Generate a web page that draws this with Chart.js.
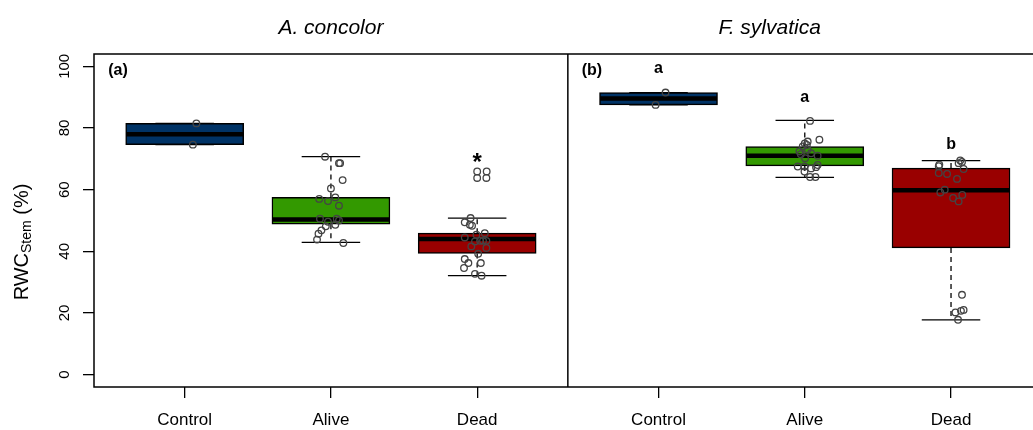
<!DOCTYPE html>
<html>
<head>
<meta charset="utf-8">
<script src="https://cdn.jsdelivr.net/npm/chart.js@4.4.1/dist/chart.umd.min.js"></script>
<style>
  html, body { margin: 0; padding: 0; overflow: hidden; background: #fff; }
  canvas { display: block; }
</style>
</head>
<body>
<canvas id="rwcChart" width="1047" height="430"></canvas>
<script>
// ===== data =====
const groups = ['Control', 'Alive', 'Dead'];
const species = ['A. concolor', 'F. sylvatica'];
const panelTags = ['(a)', '(b)'];

// box positions on the shared x axis (panel a: 1..3, panel b: 4.24..6.24)
const boxX = [1, 2, 3, 4.24, 5.24, 6.24];
const boxColors = ['#003366', '#339900', '#990000', '#003366', '#339900', '#990000'];
const boxQ1 = [74.6, 48.8, 39.3, 87.5, 67.7, 41.1];
const boxMedian = [78.0, 50.3, 44.0, 89.6, 71.0, 59.8];
const boxQ3 = [81.5, 57.5, 45.9, 91.5, 74.0, 67.0];
const whiskerLow = [74.6, 42.9, 32.1, 87.5, 64.0, 17.8];
const whiskerHigh = [81.5, 70.7, 50.8, 91.5, 82.5, 69.4];

// significance marks above boxes
const marks = ['', '', '*', 'a', 'a', 'b'];
const markY = [null, null, 68.5, 99.2, 89.8, 74.6];

const yTicks = [0, 20, 40, 60, 80, 100];

// jittered raw points: values and x offsets from the box centre
const pointValues = [
  [81.5, 74.6],
  [70.7, 68.6, 68.6, 63.1, 60.4, 57.5, 57.0, 56.3, 54.8, 50.6, 49.6, 50.6, 50.0, 48.6, 48.1, 46.8, 45.7, 43.8, 42.7],
  [65.9, 63.8, 65.9, 63.8, 50.8, 49.4, 48.6, 48.3, 45.9, 45.4, 44.5, 43.4, 43.4, 43.4, 43.2, 41.6, 41.1, 39.2, 37.5, 36.2, 34.6, 36.2, 32.7, 32.1],
  [91.5, 87.5],
  [82.3, 76.2, 75.6, 75.0, 74.5, 74.0, 72.4, 71.8, 71.0, 70.2, 67.5, 67.5, 66.9, 68.0, 67.3, 65.9, 64.1, 64.1, 71.5, 73.0],
  [68.1, 67.6, 69.5, 68.6, 69.0, 66.7, 65.4, 65.1, 63.5, 59.1, 60.0, 57.3, 56.2, 58.3, 25.9, 20.2, 20.7, 21.0, 17.8]
];
const pointJitter = [
  [0.08, 0.056],
  [-0.04, 0.055, 0.063, 0.08, 0.0, 0.03, -0.08, -0.02, 0.055, -0.075, -0.02, 0.04, 0.055, 0.03, -0.035, -0.065, -0.085, -0.095, 0.085],
  [0.0, 0.0, 0.065, 0.063, -0.045, -0.085, -0.05, -0.035, 0.052, -0.005, -0.085, 0.02, 0.04, 0.063, -0.015, -0.04, 0.063, 0.007, -0.085, -0.06, -0.09, 0.025, -0.015, 0.03],
  [0.048, -0.02],
  [0.036, 0.1, 0.02, 0.0, 0.014, -0.014, -0.036, 0.043, 0.088, 0.002, -0.048, -0.002, 0.043, 0.088, 0.077, -0.002, 0.036, 0.073, -0.027, 0.02],
  [-0.08, -0.084, 0.063, 0.052, 0.075, 0.086, -0.084, -0.027, 0.041, -0.073, -0.043, 0.014, 0.052, 0.077, 0.075, 0.03, 0.068, 0.086, 0.048]
];

const FONT = "'Liberation Sans', Arial, sans-serif";
const X_MIN = 0.38, X_MAX = 6.86, PANEL_SPLIT = 3.62;
const titleX = [2.0, 5.0];

// ===== datasets =====
const datasets = [];

const points = [];
pointValues.forEach((vals, g) => {
  vals.forEach((v, i) => points.push({ x: boxX[g] + pointJitter[g][i], y: v }));
});
datasets.push({
  type: 'scatter',
  data: points,
  pointRadius: 3.3,
  pointBorderWidth: 1.3,
  borderColor: '#444444',
  backgroundColor: 'rgba(0,0,0,0)',
  order: 0
});

function segment(x1, x2, y1, y2, width, dash, order) {
  return {
    type: 'line',
    data: [{ x: x1, y: y1 }, { x: x2, y: y2 }],
    borderColor: '#000',
    borderWidth: width,
    borderDash: dash,
    pointRadius: 0,
    fill: false,
    order
  };
}

boxX.forEach((x, i) => {
  datasets.push(segment(x - 0.4, x + 0.4, boxMedian[i], boxMedian[i], 4.5, [], 1));
  datasets.push(segment(x, x, boxQ3[i], whiskerHigh[i], 1.3, [5, 4], 3));
  datasets.push(segment(x, x, boxQ1[i], whiskerLow[i], 1.3, [5, 4], 3));
  datasets.push(segment(x - 0.2, x + 0.2, whiskerHigh[i], whiskerHigh[i], 1.3, [], 3));
  datasets.push(segment(x - 0.2, x + 0.2, whiskerLow[i], whiskerLow[i], 1.3, [], 3));
});

datasets.push({
  type: 'bar',
  data: boxX.map((x, i) => ({ x, y: [boxQ1[i], boxQ3[i]] })),
  backgroundColor: boxColors,
  borderColor: '#000',
  borderWidth: 1.5,
  borderSkipped: false,
  barThickness: 118,
  order: 2
});

// ===== plugins =====
const framePlugin = {
  id: 'frame',
  afterDatasetsDraw(chart) {
    const { ctx, chartArea, scales } = chart;
    ctx.save();
    ctx.strokeStyle = '#000';
    ctx.lineWidth = 1.5;
    ctx.strokeRect(chartArea.left, chartArea.top, chartArea.right - chartArea.left, chartArea.bottom - chartArea.top);
    const xs = scales.x.getPixelForValue(PANEL_SPLIT);
    ctx.beginPath();
    ctx.moveTo(xs, chartArea.top);
    ctx.lineTo(xs, chartArea.bottom);
    ctx.stroke();
    ctx.restore();
  }
};

const textPlugin = {
  id: 'texts',
  afterDraw(chart) {
    const { ctx, scales } = chart;
    const xs = scales.x, ys = scales.y;
    ctx.save();
    ctx.fillStyle = '#000';

    // species titles
    ctx.font = `italic 21px ${FONT}`;
    ctx.textAlign = 'center';
    ctx.textBaseline = 'alphabetic';
    species.forEach((s, i) => ctx.fillText(s, xs.getPixelForValue(titleX[i]), 34));

    // panel tags
    ctx.font = `bold 16px ${FONT}`;
    ctx.textBaseline = 'middle';
    panelTags.forEach((t, i) => {
      const left = i === 0 ? X_MIN : PANEL_SPLIT;
      ctx.fillText(t, xs.getPixelForValue(left) + 24, 71);
    });

    // letters / star
    marks.forEach((m, i) => {
      if (!m) return;
      ctx.font = m === '*' ? `bold 24px ${FONT}` : `bold 16px ${FONT}`;
      ctx.fillText(m, xs.getPixelForValue(boxX[i]), ys.getPixelForValue(markY[i]));
    });

    // rotated y tick labels
    ctx.font = `15px ${FONT}`;
    yTicks.forEach(v => {
      ctx.save();
      ctx.translate(65, ys.getPixelForValue(v));
      ctx.rotate(-Math.PI / 2);
      ctx.textAlign = 'center';
      ctx.textBaseline = 'middle';
      ctx.fillText(String(v), 0, 0);
      ctx.restore();
    });

    // y axis title with subscript
    ctx.save();
    ctx.translate(28, 242);
    ctx.rotate(-Math.PI / 2);
    ctx.textBaseline = 'alphabetic';
    ctx.textAlign = 'left';
    const big = `20px ${FONT}`, small = `14px ${FONT}`;
    ctx.font = big;
    const w1 = ctx.measureText('RWC').width;
    ctx.font = small;
    const w2 = ctx.measureText('Stem').width;
    ctx.font = big;
    const w3 = ctx.measureText(' (%)').width;
    let x0 = -(w1 + w2 + w3) / 2;
    ctx.fillText('RWC', x0, 0);
    ctx.font = small;
    ctx.fillText('Stem', x0 + w1, 3);
    ctx.font = big;
    ctx.fillText(' (%)', x0 + w1 + w2, 0);
    ctx.restore();

    ctx.restore();
  }
};

// ===== chart =====
new Chart(document.getElementById('rwcChart').getContext('2d'), {
  type: 'scatter',
  data: { datasets },
  options: {
    responsive: false,
    animation: false,
    devicePixelRatio: 1,
    layout: { padding: { top: 54, right: 0, bottom: 0, left: 0 } },
    plugins: { legend: { display: false }, tooltip: { enabled: false } },
    events: [],
    scales: {
      x: {
        type: 'linear',
        min: X_MIN,
        max: X_MAX,
        offset: false,
        afterBuildTicks: scale => { scale.ticks = boxX.map(v => ({ value: v })); },
        afterFit: scale => { scale.height = 43; },
        ticks: {
          autoSkip: false,
          maxRotation: 0,
          padding: 12,
          color: '#000',
          font: { family: FONT, size: 17 },
          callback: (v, i) => groups[i % 3]
        },
        grid: { offset: false, drawOnChartArea: false, drawTicks: true, tickLength: 11, color: '#000', lineWidth: 1.3 },
        border: { display: false }
      },
      y: {
        type: 'linear',
        min: -4,
        max: 104,
        afterBuildTicks: scale => { scale.ticks = yTicks.map(v => ({ value: v })); },
        afterFit: scale => { scale.width = 94; },
        ticks: { display: false },
        grid: { offset: false, drawOnChartArea: false, drawTicks: true, tickLength: 11, color: '#000', lineWidth: 1.3 },
        border: { display: false }
      }
    }
  },
  plugins: [framePlugin, textPlugin]
});
</script>
</body>
</html>
